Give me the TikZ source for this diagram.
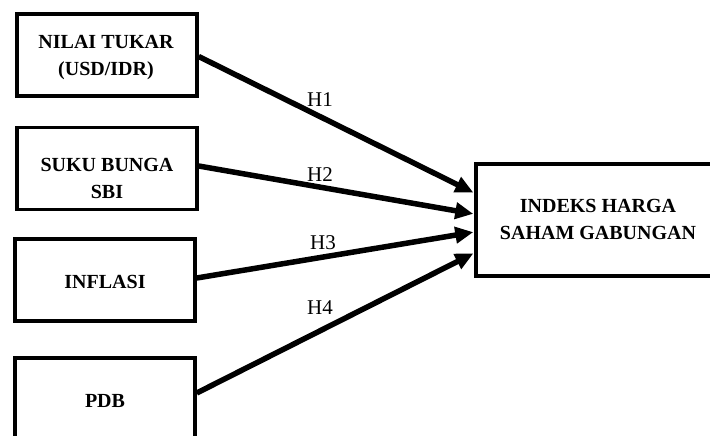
\documentclass[tikz,border=0pt]{standalone}
\usepackage{fontspec}
\setmainfont{Liberation Serif}
\usetikzlibrary{arrows.meta}
\begin{document}
\begin{tikzpicture}[x=1pt,y=-1pt,
  varbox/.style={draw=black, line width=3.5pt, minimum width=180pt, minimum height=82pt, inner sep=0pt},
  tgtbox/.style={draw=black, line width=3.5pt, minimum width=244pt, minimum height=112pt, inner sep=0pt},
  boxtext/.style={inner sep=0pt, align=center, font=\fontsize{20}{27}\selectfont\bfseries},
  hyparrow/.style={line width=5.5pt, -{Triangle[length=18pt,width=16pt]}, shorten >=1pt},
  hyplabel/.style={font=\fontsize{21}{24}\selectfont, inner sep=0pt}]
\useasboundingbox (0,0) rectangle (710,436);
\clip (0,0) rectangle (710,436);
\node[varbox] (b1) at (107,55) {};
\node[varbox] (b2) at (107,168.5) {};
\node[varbox] (b3) at (105,280) {};
\node[varbox] (b4) at (105,399) {};
\node[tgtbox] (t) at (598,220) {};
\node[boxtext] (b1t) at (106,58) {NILAI TUKAR\\(USD/IDR)};
\node[boxtext] (b2t) at (107,178) {SUKU BUNGA\\SBI};
\node[boxtext] (b3t) at (105,282) {INFLASI};
\node[boxtext] (b4t) at (105,401) {PDB};
\node[boxtext] (tt) at (598,219) {INDEKS HARGA\\SAHAM GABUNGAN};
\draw[hyparrow] ([yshift=-1.5pt]b1.east) -- ([yshift=27pt]t.west);
\draw[hyparrow] ([yshift=2.5pt]b2.east) -- ([yshift=6pt]t.west);
\draw[hyparrow] ([yshift=2pt]b3.east) -- ([yshift=-12pt]t.west);
\draw[hyparrow] ([yshift=6pt]b4.east) -- ([yshift=-33pt]t.west);
\node[hyplabel] (h1) at (320,100) {H1};
\node[hyplabel] (h2) at (320,175) {H2};
\node[hyplabel] (h3) at (323,243) {H3};
\node[hyplabel] (h4) at (320,308) {H4};
\end{tikzpicture}
\end{document}
